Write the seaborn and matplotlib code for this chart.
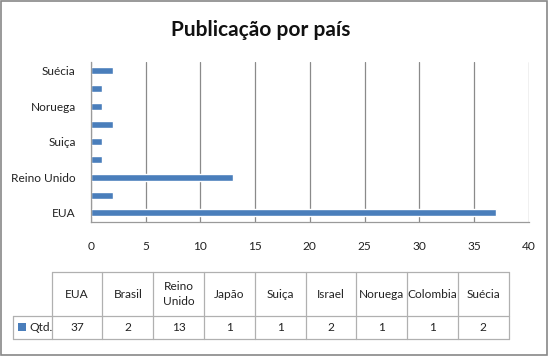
import matplotlib
matplotlib.use("Agg")
import matplotlib.pyplot as plt
import seaborn as sns
import pandas as pd
from matplotlib.patches import Rectangle
from matplotlib.lines import Line2D

countries = ["EUA", "Brasil", "Reino Unido", "Japão", "Suiça", "Israel", "Noruega", "Colombia", "Suécia"]
header_labels = ["EUA", "Brasil", "Reino\nUnido", "Japão", "Suiça", "Israel", "Noruega", "Colombia", "Suécia"]
counts = [37, 2, 13, 1, 1, 2, 1, 1, 2]
series_name = "Qtd."
title = "Publicação por país"
x_ticks = [0, 5, 10, 15, 20, 25, 30, 35, 40]

sns.set_theme(style="white")
plt.rcParams["font.family"] = ["Lato", "DejaVu Sans"]

W, H = 550, 357
fig = plt.figure(figsize=(W / 100, H / 100), dpi=100)

def fx(px):
    return px / W

def fy(py):
    return 1 - py / H

left, right, top, bottom = 91, 528.7, 62, 221.7
ax = fig.add_axes([fx(left), fy(bottom), fx(right) - fx(left), fy(top) - fy(bottom)])

df = pd.DataFrame({"pais": countries, "qtd": counts})
order = countries[::-1]
sns.barplot(data=df, x="qtd", y="pais", order=order, orient="h", color="#4A7EBB",
            saturation=1, width=0.4, ax=ax)

fs = 8.6
ax.set_xlim(0, 40)
ax.set_xticks(x_ticks)
ax.set_xticklabels([str(t) for t in x_ticks], fontsize=fs, color="#222222")
ylabels = [c if (countries.index(c) % 2 == 0) else "" for c in order]
ax.set_yticklabels(ylabels, fontsize=fs, color="#222222")
ax.set_xlabel("")
ax.set_ylabel("")
ax.tick_params(axis="x", length=0, pad=14)
ax.tick_params(axis="y", length=0, pad=11)
ax.grid(axis="x", color="#8a8a8a", linewidth=0.9)
ax.set_axisbelow(True)
for s in ["top", "right"]:
    ax.spines[s].set_visible(False)
for s in ["left", "bottom"]:
    ax.spines[s].set_color("#9a9a9a")
    ax.spines[s].set_linewidth(0.9)

fig.text(fx(261), fy(30), title, ha="center", va="center", fontsize=15,
         fontweight="bold", color="#111111")

# data table
line_c = "#b0b0b0"
col0 = 51.7
colw = (508.7 - 51.7) / len(countries)
t_top, t_mid, t_bot = 272.3, 316, 339.3
leg_left = 12.7

def hline(x0, x1, y):
    fig.add_artist(Line2D([fx(x0), fx(x1)], [fy(y), fy(y)], color=line_c, lw=0.9,
                          transform=fig.transFigure))

def vline(x, y0, y1):
    fig.add_artist(Line2D([fx(x), fx(x)], [fy(y0), fy(y1)], color=line_c, lw=0.9,
                          transform=fig.transFigure))

hline(col0, col0 + colw * len(countries), t_top)
hline(leg_left, col0 + colw * len(countries), t_mid)
hline(leg_left, col0 + colw * len(countries), t_bot)
for i in range(len(countries) + 1):
    vline(col0 + colw * i, t_top, t_bot)
vline(leg_left, t_mid, t_bot)

for i, (lab, v) in enumerate(zip(header_labels, counts)):
    cx = col0 + colw * (i + 0.5)
    fig.text(fx(cx), fy((t_top + t_mid) / 2), lab, ha="center", va="center",
             fontsize=fs, color="#222222", linespacing=1.45)
    fig.text(fx(cx), fy((t_mid + t_bot) / 2), str(v), ha="center", va="center",
             fontsize=fs, color="#222222")

fig.add_artist(Rectangle((fx(18.3), fy(330.7)), fx(7.3), fy(323.3) - fy(330.7),
                         facecolor="#4A7EBB", edgecolor="none", transform=fig.transFigure))
fig.text(fx(29), fy((t_mid + t_bot) / 2), series_name, ha="left", va="center",
         fontsize=fs, color="#222222")

# outer frame
fig.add_artist(Rectangle((fx(1), fy(355)), fx(546), fy(1) - fy(355), facecolor="none",
                         edgecolor="#888888", lw=1.2, transform=fig.transFigure))

fig.savefig("out.png", dpi=100)
